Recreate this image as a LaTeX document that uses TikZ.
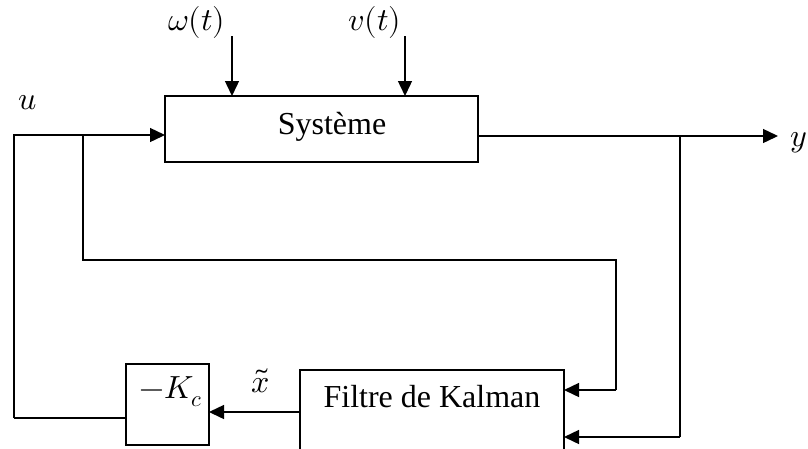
\documentclass[tikz,border=0pt]{standalone}
\usepackage{fontspec}
\usepackage{unicode-math}
\setmainfont{Liberation Serif}
\setmathfont{Latin Modern Math}
\usetikzlibrary{arrows.meta}
\begin{document}
\begin{tikzpicture}[x=1pt,y=-1pt,
  line width=1.4pt,
  blk/.style={draw,line width=1.4pt,inner sep=0pt},
  txt/.style={font=\fontsize{32}{36}\selectfont,inner sep=1pt},
  arr/.style={-{Triangle[length=15pt,width=14pt]}}]
\useasboundingbox (0,0) rectangle (808,448);
\begin{scope}
\clip (0,0) rectangle (808,448);
% blocks
\node[blk,minimum width=313pt,minimum height=66pt] (sys) at (321.5,129) {};
\node[txt] (systxt) at (332,127) {Système};
\node[blk,minimum width=264pt,minimum height=90pt] (kal) at (432,415) {};
\node[txt] (kaltxt) at (432,397) {Filtre de Kalman};
\node[blk,minimum width=83pt,minimum height=81pt] (kc) at (167.5,404.5) {};
\node[txt] (kctxt) at (171,392) {$-K_c$};
% labels
\node[txt] (w) at (197,22) {$\omega(t)$};
\node[txt] (v) at (375,22) {$v(t)$};
\node[txt] (u) at (28,103) {$u$};
\node[txt] (y) at (799,143) {$y$};
\node[txt] (xt) at (261,381) {$\tilde{x}$};
% junctions and corners
\coordinate (ju) at (83,135);
\coordinate (jy) at (680,136);
\coordinate (yend) at (778,136);
\coordinate (wtop) at (232,36);
\coordinate (vtop) at (405,36);
\end{scope}
% disturbances
\draw[arr] (wtop) -- (232,96);
\draw[arr] (vtop) -- (405,96);
% input u
\draw[arr] (14,418) -- (14,135) -- (165,135);
\draw (ju) -- (83,260) -- (616,260) -- (616,390);
\draw[arr] (616,390) -- (564,390);
% output y
\draw[arr] (478,136) -- (yend);
\draw (jy) -- (680,437);
\draw[arr] (680,437) -- (564,437);
% estimate to gain
\draw[arr] (300,412) -- (209,412);
\draw (126,418) -- (14,418);
\end{tikzpicture}
\end{document}
